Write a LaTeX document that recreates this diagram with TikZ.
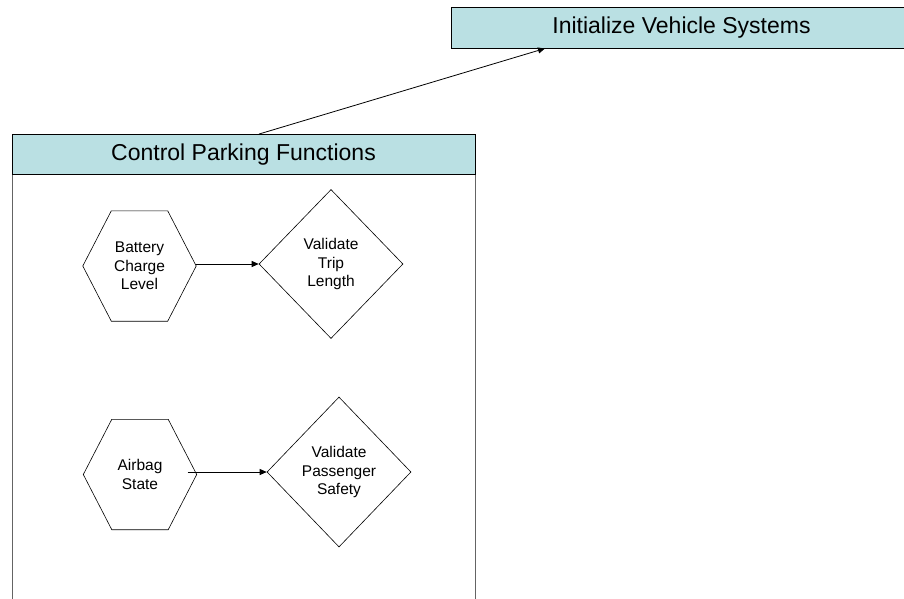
\documentclass[tikz,border=0pt]{standalone}
\usepackage{fontspec}
\setmainfont{Liberation Sans}
\usetikzlibrary{shapes.geometric,arrows.meta,calc}
\definecolor{hdrfill}{RGB}{186,224,227}
\definecolor{boxline}{RGB}{100,100,100}
\tikzset{
  header/.style={draw=black, fill=hdrfill, line width=0.9pt, inner sep=0pt,
    font=\fontsize{23}{26}\selectfont},
  headertext/.style={inner sep=0pt, font=\fontsize{23}{26}\selectfont},
  smalltext/.style={font=\fontsize{15.5}{18.5}\selectfont, align=center, inner sep=0pt},
  hexbox/.style={smalltext, minimum width=113pt, minimum height=110pt},
  hexline/.style={draw=black, line width=0.6pt},
  decision/.style={smalltext, diamond, draw=black, line width=0.6pt, aspect=1},
  arr/.style={draw=black, line width=0.8pt, -{Triangle[length=7pt,width=6pt]}},
}
\begin{document}
\begin{tikzpicture}[x=1pt,y=-1pt]
\clip (0,0) rectangle (904,599);
\fill[white] (0,0) rectangle (904,599);
% outer container
\draw[boxline, line width=0.9pt] (12,134) rectangle (475,650);
% headers
\node[header, minimum width=463pt, minimum height=40pt] (hdr) at (243.5,154.5) {Control Parking Functions};
\draw[header] (451,7.5) rectangle (960,48);
\node[headertext, minimum width=461pt, minimum height=40.5pt] (init) at (681.5,28) {Initialize Vehicle Systems};
% hexagons
\node[hexbox] (h1) at (139.5,266) {Battery\\Charge\\Level};
\node[hexbox] (h2) at (140,474.5) {Airbag\\State};
\foreach \h in {h1,h2}{
  \draw[hexline] (\h.west) -- ($(\h.north west)+(28.5,0)$) -- ($(\h.north east)+(-28.5,0)$)
    -- (\h.east) -- ($(\h.south east)+(-28.5,0)$) -- ($(\h.south west)+(28.5,0)$) -- cycle;
}
% diamonds
\node[decision, minimum width=144pt, minimum height=149pt] (d1) at (331,264) {Validate\\Trip\\Length};
\node[decision, minimum width=144pt, minimum height=150pt] (d2) at (339,472) {Validate\\Passenger\\Safety};
% connectors
\draw[arr] ($(hdr.north)+(15.5,0)$) -- ($(init.south)+(-136.5,0)$);
\draw[arr] (h1.east |- d1.west) -- (d1.west);
\draw[arr] ($(h2.east |- d2.west)+(-9,0)$) -- (d2.west);
\end{tikzpicture}
\end{document}
